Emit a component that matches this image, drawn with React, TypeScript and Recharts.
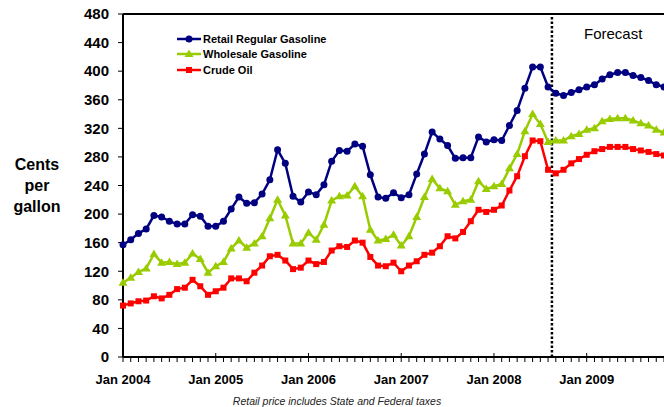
import { Line, LineChart, ReferenceLine, XAxis, YAxis } from "recharts";

// monthly values, cents per gallon, Jan 2004 .. Nov 2009
const retail = [
  157, 164, 173, 179, 198, 196, 190, 186, 186, 199, 197, 183,
  183, 190, 207, 224, 215, 216, 228, 248, 290, 271, 225, 217,
  231, 227, 241, 274, 289, 288, 298, 295, 255, 224, 222, 230,
  223, 227, 256, 284, 315, 305, 296, 278, 279, 279, 308, 301,
  304, 303, 324, 345, 376, 406, 406, 378, 369, 366, 370, 374,
  378, 381, 389, 395, 398, 398, 394, 391, 387, 381, 378,
];
const wholesale = [
  104, 111, 119, 124, 144, 132, 133, 130, 132, 145, 137, 118,
  127, 133, 152, 163, 153, 159, 169, 194, 220, 198, 159, 159,
  174, 164, 185, 219, 225, 226, 239, 225, 178, 163, 165, 171,
  156, 169, 196, 224, 249, 236, 232, 213, 218, 220, 246, 235,
  239, 242, 264, 284, 316, 340, 326, 301, 303, 303, 309, 312,
  318, 320, 330, 333, 334, 334, 331, 327, 324, 318, 314,
];
const crude = [
  72, 75, 78, 79, 85, 82, 87, 95, 97, 108, 99, 87,
  92, 97, 110, 110, 106, 118, 128, 141, 143, 135, 123, 125,
  135, 130, 133, 149, 155, 154, 163, 160, 140, 128, 127, 132,
  120, 128, 134, 143, 146, 155, 169, 166, 175, 190, 206, 203,
  206, 212, 233, 253, 281, 303, 302, 262, 257, 262, 271, 277,
  283, 288, 291, 294, 294, 294, 291, 289, 287, 284, 282,
];
const yearLabels = ["Jan 2004", "Jan 2005", "Jan 2006", "Jan 2007", "Jan 2008", "Jan 2009"];
const yTicks = [0, 40, 80, 120, 160, 200, 240, 280, 320, 360, 400, 440, 480];
const forecastStart = 55.5; // between Aug and Sep 2008

const NAVY = "#000080";
const GREEN = "#99CC00";
const RED = "#FF0000";
const FONT = "Arial, 'Liberation Sans', sans-serif";

const data = retail.map((v, i) => ({ i, retail: v, wholesale: wholesale[i], crude: crude[i] }));
const monthTicks = data.map((d) => d.i);

function MonthTick(props: any) {
  const { x, y, payload } = props;
  const i = payload.value;
  const major = i % 12 === 0;
  return (
    <g>
      <line x1={x} x2={x} y1={major ? y - 4 : y} y2={y + 5} stroke="#000" strokeWidth={1} />
      {major && (
        <text x={x} y={y + 27} textAnchor="middle" fontFamily={FONT} fontWeight="bold" fontSize={13} fill="#000">
          {yearLabels[i / 12]}
        </text>
      )}
    </g>
  );
}

const circleDot = (p: any) => <circle key={p.index} cx={p.cx} cy={p.cy} r={3.5} fill={NAVY} />;
const triDot = (p: any) => (
  <polygon
    key={p.index}
    points={`${p.cx},${p.cy - 4.5} ${p.cx + 4.5},${p.cy + 3} ${p.cx - 4.5},${p.cy + 3}`}
    fill={GREEN}
  />
);
const squareDot = (p: any) => <rect key={p.index} x={p.cx - 3} y={p.cy - 3} width={6} height={6} fill={RED} />;

const legendItems = [
  { label: "Retail Regular Gasoline", color: NAVY, shape: "circle" },
  { label: "Wholesale Gasoline", color: GREEN, shape: "triangle" },
  { label: "Crude Oil", color: RED, shape: "square" },
];

function LegendIcon({ color, shape }: { color: string; shape: string }) {
  return (
    <svg width={24} height={12} style={{ display: "block", marginRight: 2 }}>
      <line x1={0} x2={24} y1={6} y2={6} stroke={color} strokeWidth={2.5} />
      {shape === "circle" && <circle cx={12} cy={6} r={3.5} fill={color} />}
      {shape === "triangle" && <polygon points="12,1.5 16.5,9 7.5,9" fill={color} />}
      {shape === "square" && <rect x={9} y={3} width={6} height={6} fill={color} />}
    </svg>
  );
}

export default function App() {
  return (
    <div style={{ position: "absolute", left: 0, top: 0, width: 664, height: 407, background: "#fff", fontFamily: FONT }}>
      <LineChart width={664} height={407} data={data} margin={{ top: 14, right: 0, bottom: 0, left: 0 }}>
        <XAxis
          dataKey="i"
          type="number"
          domain={[0, 70]}
          ticks={monthTicks}
          interval={0}
          tick={(p: any) => <MonthTick {...p} />}
          tickLine={false}
          tickSize={0}
          tickMargin={0}
          height={50}
          axisLine={{ stroke: "#000", strokeWidth: 2 }}
        />
        <YAxis
          domain={[0, 480]}
          ticks={yTicks}
          interval={0}
          width={123}
          tickSize={5}
          tickMargin={9}
          tickLine={{ stroke: "#000", strokeWidth: 1 }}
          axisLine={{ stroke: "#000", strokeWidth: 2 }}
          tick={{ fill: "#000", fontSize: 15, fontWeight: "bold", fontFamily: FONT }}
        />
        <ReferenceLine y={480} stroke="#000" strokeWidth={2} />
        <ReferenceLine x={forecastStart} stroke="#000" strokeWidth={2.5} strokeDasharray="2.5 2" />
        <Line dataKey="crude" stroke={RED} strokeWidth={2.5} dot={squareDot} isAnimationActive={false} />
        <Line dataKey="wholesale" stroke={GREEN} strokeWidth={2.5} dot={triDot} isAnimationActive={false} />
        <Line dataKey="retail" stroke={NAVY} strokeWidth={2.5} dot={circleDot} isAnimationActive={false} />
      </LineChart>

      {/* legend */}
      <div style={{ position: "absolute", left: 177, top: 31, fontSize: 11, fontWeight: "bold", color: "#000" }}>
        {legendItems.map((it) => (
          <div key={it.label} style={{ display: "flex", alignItems: "center", height: 15.5 }}>
            <LegendIcon color={it.color} shape={it.shape} />
            <span>{it.label}</span>
          </div>
        ))}
      </div>

      <div style={{ position: "absolute", left: 584, top: 25, fontSize: 15, color: "#000" }}>Forecast</div>

      <div
        style={{
          position: "absolute",
          left: 0,
          top: 154,
          width: 74,
          textAlign: "center",
          fontSize: 16,
          fontWeight: "bold",
          lineHeight: "21px",
          color: "#000",
        }}
      >
        Cents
        <br />
        per
        <br />
        gallon
      </div>

      <div
        style={{
          position: "absolute",
          left: 0,
          width: 674,
          top: 394,
          textAlign: "center",
          fontSize: 10.5,
          fontStyle: "italic",
          lineHeight: "14px",
          color: "#222",
        }}
      >
        Retail price includes State and Federal taxes
      </div>
    </div>
  );
}
